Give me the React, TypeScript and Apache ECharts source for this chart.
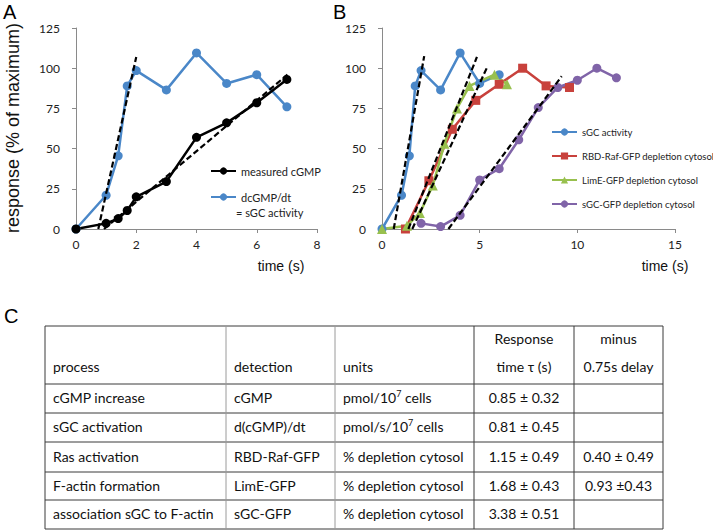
import React, { useEffect, useRef } from 'react';
import * as echarts from 'echarts';

// ---------- Panel A data ----------
const timeA = [0, 1, 1.4, 1.7, 2, 3, 4, 5, 6, 7];
const measuredCGMP = [0, 3.5, 6.5, 11.5, 20, 29.5, 57, 66, 78.5, 93];
const dcgmpDt = [0, 21, 45.5, 89, 98.5, 86.5, 109.5, 90.5, 96, 76];
const fitA1 = [[0.74, 0], [2.0, 107]];
const fitA2 = [[0.93, 0], [7.02, 96]];

// ---------- Panel B data ----------
const timeBsgc = [0, 1, 1.4, 1.7, 2, 3, 4, 5, 6];
const sgcActivityB = [0, 21, 45.5, 89, 98.5, 86.5, 109.5, 90.5, 96];
const timeRBD = [1.2, 2.4, 3.6, 4.8, 6.0, 7.2, 8.4, 9.6];
const rbdRaf = [0, 30, 62, 80, 90, 100, 89, 88];
const timeLimE = [0, 1.28, 1.94, 2.6, 3.2, 3.84, 4.48, 5.76, 6.4];
const limE = [0, 2, 10, 27, 53, 75, 89, 96, 90];
const timeSgcGfp = [2, 3, 4, 5, 6, 7, 8, 9, 10, 11, 12];
const sgcGfp = [3.5, 1.5, 8.5, 30.5, 37.5, 55.5, 75.5, 88, 92.5, 100, 94];
const fitB1 = [[0.6, 0], [2.16, 107.5]];
const fitB2 = [[1.35, 0], [4.86, 107]];
const fitB3 = [[1.55, 0], [5.36, 100]];
const fitB4 = [[3.4, 0], [9.2, 95]];

// ---------- Table C ----------
const tableHeader = ['process', 'detection', 'units', 'time \u03c4 (s)', '0.75s delay'];
const tableHeaderTop = ['', '', '', 'Response', 'minus'];
const processCol = ['cGMP increase', 'sGC activation', 'Ras activation', 'F-actin formation', 'association sGC to F-actin'];
const detectionCol = ['cGMP', 'd(cGMP)/dt', 'RBD-Raf-GFP', 'LimE-GFP', 'sGC-GFP'];
const unitsCol = ['{a|pmol/10}{s|7}{a| cells}', '{a|pmol/s/10}{s|7}{a| cells}', '% depletion cytosol', '% depletion cytosol', '% depletion cytosol'];
const responseCol = ['0.85 \u00b1 0.32', '0.81 \u00b1 0.45', '1.15 \u00b1 0.49', '1.68 \u00b1 0.43', '3.38 \u00b1 0.51'];
const minusCol = ['', '', '0.40 \u00b1 0.49', '0.93 \u00b10.43', ''];

const BLUE = '#4a87c8';
const RED = '#c8413c';
const GREEN = '#98c04e';
const PURPLE = '#8064a8';
const AXIS = '#8a8a8a';
const FONT = 'Lato, "Open Sans", sans-serif';
const ARIAL = '"Liberation Sans", Arial, sans-serif';

const zip = (xs: number[], ys: number[]) => xs.map((x, i) => [x, ys[i]]);

export default function App() {
  const ref = useRef<HTMLDivElement>(null);
  useEffect(() => {
    if (!ref.current) return;
    const chart = echarts.init(ref.current, undefined, { renderer: 'svg' });

    const xAxisCommon = {
      type: 'value',
      axisLine: { show: true, lineStyle: { color: AXIS, width: 1 } },
      axisTick: { show: true, length: 4, lineStyle: { color: AXIS } },
      splitLine: { show: false },
      axisLabel: { color: '#222', fontSize: 12, fontFamily: FONT, margin: 9 },
    };
    const yAxisCommon = {
      type: 'value',
      min: 0,
      max: 125,
      interval: 25,
      axisLine: { show: true, lineStyle: { color: AXIS, width: 1 } },
      axisTick: { show: true, length: 4, lineStyle: { color: AXIS } },
      splitLine: { show: false },
      axisLabel: { color: '#222', fontSize: 12, fontFamily: FONT, margin: 16 },
    };

    const dataSeries = (name: string, data: number[][], color: string, symbol: string, xi: number, size = 9) => ({
      name,
      type: 'line',
      xAxisIndex: xi,
      yAxisIndex: xi,
      data,
      symbol,
      symbolSize: size,
      showSymbol: true,
      color,
      lineStyle: { color, width: 2.5 },
      itemStyle: { color },
      z: 2,
    });
    const fitSeries = (name: string, data: number[][], xi: number) => ({
      name,
      type: 'line',
      xAxisIndex: xi,
      yAxisIndex: xi,
      data,
      symbol: 'none',
      lineStyle: { color: '#000', width: 2.2, type: [6, 3] },
      z: 4,
      silent: true,
    });

    const graphics: any[] = [];
    const addText = (text: string, x: number, y: number, opts: any = {}) => {
      graphics.push({
        type: 'text',
        x,
        y,
        rotation: opts.rotation || 0,
        style: {
          text,
          x: 0,
          y: 0,
          fill: opts.color || '#111',
          fontSize: opts.fontSize || 14,
          fontFamily: opts.fontFamily || FONT,
          textAlign: opts.align || 'left',
          textVerticalAlign: 'middle',
          align: opts.align || 'left',
          verticalAlign: 'middle',
          rich: opts.rich,
        },
      });
    };
    const addLine = (x1: number, y1: number, x2: number, y2: number, color: string) => {
      graphics.push({ type: 'line', shape: { x1, y1, x2, y2 }, style: { stroke: color, lineWidth: 1 } });
    };

    // Panel letters and axis titles
    addText('A', 3, 12, { fontSize: 20, fontFamily: ARIAL, color: '#000' });
    addText('B', 333, 12, { fontSize: 20, fontFamily: ARIAL, color: '#000' });
    addText('C', 4, 316, { fontSize: 20, fontFamily: ARIAL, color: '#000' });
    addText('response (% of maximum)', 13, 128, { fontSize: 18, fontFamily: ARIAL, align: 'center', rotation: Math.PI / 2, color: '#111' });
    addText('time (s)', 281, 266, { fontSize: 14, fontFamily: ARIAL, align: 'center', color: '#111' });
    addText('time (s)', 665, 266, { fontSize: 14, fontFamily: ARIAL, align: 'center', color: '#111' });
    addText('= sGC activity', 236, 212, { fontSize: 11, color: '#222' });

    // Table C
    const colX = [45, 226, 335, 474, 574, 663];
    const rowY = [326, 384, 413, 442, 472, 500, 529];
    const darkLine = '#3a3a3a';
    const greyLine = '#9a9a9a';
    rowY.forEach((y) => addLine(colX[0], y, colX[5], y, darkLine));
    colX.forEach((x, i) => addLine(x, rowY[0], x, rowY[6], i === 1 || i === 2 ? greyLine : darkLine));

    const tfs = 14;
    const leftPad = 8;
    const headerY = 366;
    const headerTopY = 338;
    tableHeader.forEach((h, i) => {
      if (i < 3) addText(h, colX[i] + leftPad, headerY, { fontSize: tfs });
      else addText(h, (colX[i] + colX[i + 1]) / 2, headerY, { fontSize: tfs, align: 'center' });
    });
    tableHeaderTop.forEach((h, i) => {
      if (h) addText(h, (colX[i] + colX[i + 1]) / 2, headerTopY, { fontSize: tfs, align: 'center' });
    });
    const richUnits = {
      a: { fontSize: tfs, fontFamily: FONT, fill: '#111', color: '#111', lineHeight: 18 },
      s: { fontSize: 9, fontFamily: FONT, fill: '#111', color: '#111', lineHeight: 18, verticalAlign: 'top', padding: [0, 0, 6, 0] },
    };
    for (let r = 0; r < processCol.length; r++) {
      const cy = (rowY[r + 1] + rowY[r + 2]) / 2 - 1;
      addText(processCol[r], colX[0] + leftPad, cy, { fontSize: tfs });
      addText(detectionCol[r], colX[1] + leftPad, cy, { fontSize: tfs });
      const u = unitsCol[r];
      if (u.includes('{s|')) addText(u, colX[2] + leftPad, cy, { fontSize: tfs, rich: richUnits });
      else addText(u, colX[2] + leftPad, cy, { fontSize: tfs });
      addText(responseCol[r], (colX[3] + colX[4]) / 2, cy, { fontSize: tfs, align: 'center' });
      if (minusCol[r]) addText(minusCol[r], (colX[4] + colX[5]) / 2, cy, { fontSize: tfs, align: 'center' });
    }

    const option: any = {
      animation: false,
      backgroundColor: '#fff',
      grid: [
        { left: 76, top: 28, width: 241, height: 201 },
        { left: 382, top: 28, width: 293, height: 201 },
      ],
      xAxis: [
        { ...xAxisCommon, gridIndex: 0, min: 0, max: 8, interval: 2 },
        { ...xAxisCommon, gridIndex: 1, min: 0, max: 15, interval: 5 },
      ],
      yAxis: [
        { ...yAxisCommon, gridIndex: 0 },
        { ...yAxisCommon, gridIndex: 1 },
      ],
      legend: [
        {
          data: ['measured cGMP', 'dcGMP/dt'],
          orient: 'vertical',
          left: 210,
          top: 164,
          padding: 0,
          itemWidth: 25,
          itemHeight: 9,
          itemGap: 12,
          textStyle: { fontSize: 11, fontFamily: FONT, color: '#222', lineHeight: 14 },
          selectedMode: false,
        },
        {
          data: ['sGC activity', 'RBD-Raf-GFP depletion cytosol', 'LimE-GFP depletion cytosol', 'sGC-GFP depletion cytosol'],
          orient: 'vertical',
          left: 551,
          top: 125,
          padding: 0,
          itemWidth: 25,
          itemHeight: 9,
          itemGap: 10,
          textStyle: { fontSize: 9.5, fontFamily: FONT, color: '#222', lineHeight: 14, overflow: 'none' },
          selectedMode: false,
        },
      ],
      series: [
        dataSeries('dcGMP/dt', zip(timeA, dcgmpDt), BLUE, 'circle', 0),
        dataSeries('measured cGMP', zip(timeA, measuredCGMP), '#000', 'circle', 0),
        fitSeries('fit sGC activity A', fitA1, 0),
        fitSeries('fit cGMP A', fitA2, 0),
        dataSeries('sGC activity', zip(timeBsgc, sgcActivityB), BLUE, 'circle', 1),
        dataSeries('RBD-Raf-GFP depletion cytosol', zip(timeRBD, rbdRaf), RED, 'rect', 1),
        dataSeries('LimE-GFP depletion cytosol', zip(timeLimE, limE), GREEN, 'triangle', 1, 10),
        dataSeries('sGC-GFP depletion cytosol', zip(timeSgcGfp, sgcGfp), PURPLE, 'circle', 1),
        fitSeries('fit sGC activity B', fitB1, 1),
        fitSeries('fit RBD B', fitB2, 1),
        fitSeries('fit LimE B', fitB3, 1),
        fitSeries('fit sGC-GFP B', fitB4, 1),
      ],
      graphic: graphics,
    };
    chart.setOption(option);
    return () => chart.dispose();
  }, []);
  return <div ref={ref} style={{ position: 'absolute', left: 0, top: 0, width: 713, height: 531 }} />;
}
